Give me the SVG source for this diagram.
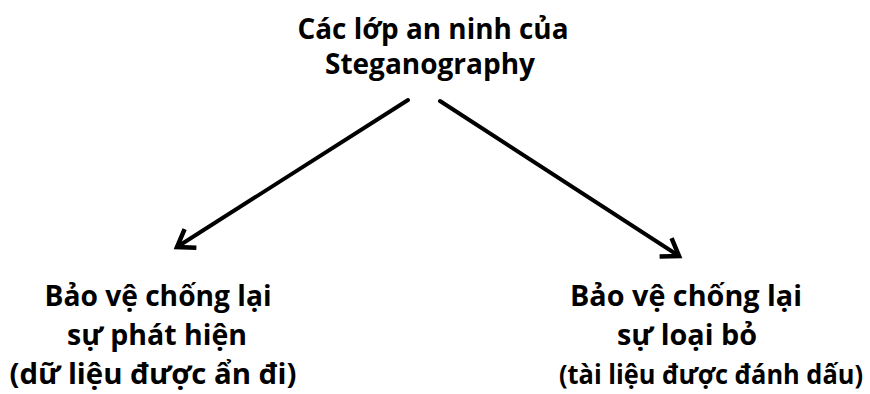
<svg xmlns="http://www.w3.org/2000/svg" width="870" height="394" viewBox="0 0 870 394">
  <style>
    .lbl { font-family: "Open Sans", "Noto Sans", "DejaVu Sans", sans-serif; font-weight: bold; font-size: 28px; fill: #000; text-anchor: middle; }
    .tight { font-size: 26px; }
    .edge { stroke: #000; stroke-width: 4; fill: none; stroke-linecap: round; }
  </style>
  <defs>
    <marker id="chevron" markerUnits="userSpaceOnUse" markerWidth="40" markerHeight="40" refX="0" refY="0" viewBox="-20 -20 40 40" orient="auto" overflow="visible">
      <path d="M-16,-11 L0,0 L-16,11" fill="none" stroke="#000" stroke-width="4.5" stroke-linejoin="miter" stroke-linecap="butt"/>
    </marker>
  </defs>
  <rect width="870" height="394" fill="#fff"/>

  <g id="root">
    <text class="lbl" x="433" y="39" textLength="271" lengthAdjust="spacingAndGlyphs">Các lớp an ninh của</text>
    <text class="lbl" x="430" y="74" textLength="210" lengthAdjust="spacingAndGlyphs">Steganography</text>
  </g>

  <g id="detection">
    <text class="lbl" x="158" y="306" textLength="227" lengthAdjust="spacingAndGlyphs">Bảo vệ chống lại</text>
    <text class="lbl" x="157" y="345" textLength="180" lengthAdjust="spacingAndGlyphs">sự phát hiện</text>
    <text class="lbl" x="153" y="384" textLength="287" lengthAdjust="spacingAndGlyphs">(dữ liệu được ẩn đi)</text>
  </g>

  <g id="removal">
    <text class="lbl" x="686" y="306" textLength="232" lengthAdjust="spacingAndGlyphs">Bảo vệ chống lại</text>
    <text class="lbl" x="687" y="345" textLength="140" lengthAdjust="spacingAndGlyphs">sự loại bỏ</text>
    <text class="lbl tight" x="711" y="384" textLength="304" lengthAdjust="spacingAndGlyphs">(tài liệu được đánh dấu)</text>
  </g>

  <g id="connectors">
    <line class="edge" x1="408" y1="100" x2="177" y2="247" marker-end="url(#chevron)"/>
    <line class="edge" x1="440" y1="101" x2="679" y2="256" marker-end="url(#chevron)"/>
  </g>
</svg>
